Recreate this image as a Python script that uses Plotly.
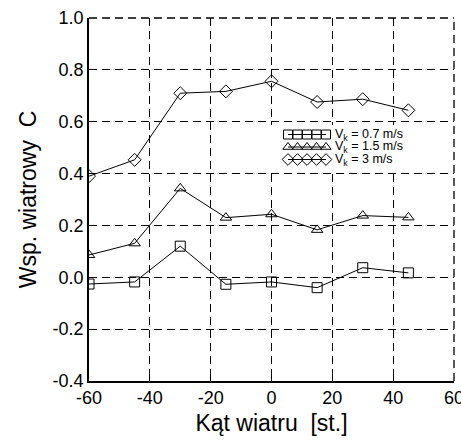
import plotly.graph_objects as go

# Wind angle [deg]
angles = [-60, -45, -30, -15, 0, 15, 30, 45]

# Wind coefficient C for three wind speeds
c_v07 = [-0.026, -0.018, 0.12, -0.027, -0.018, -0.04, 0.037, 0.017]
c_v15 = [0.086, 0.131, 0.343, 0.23, 0.243, 0.183, 0.238, 0.231]
c_v30 = [0.39, 0.453, 0.71, 0.717, 0.756, 0.676, 0.687, 0.644]

series_names = ["V<sub>k</sub> = 0.7 m/s", "V<sub>k</sub> = 1.5 m/s", "V<sub>k</sub> = 3 m/s"]
symbols = ["square-open", "triangle-up-open", "diamond-open"]

x_ticks = [-60, -40, -20, 0, 20, 40, 60]
y_ticks = [-0.4, -0.2, 0.0, 0.2, 0.4, 0.6, 0.8, 1.0]
y_labels = ["-0.4", "-0.2", "0.0", "0.2", "0.4", "0.6", "0.8", "1.0"]

font_family = "Liberation Sans, Arial, sans-serif"
dash = "8px,5px"

fig = go.Figure()
for vals, name, sym in zip([c_v07, c_v15, c_v30], series_names, symbols):
    fig.add_trace(go.Scatter(
        x=angles, y=vals, name=name, mode="lines+markers", showlegend=False,
        line=dict(color="black", width=1),
        marker=dict(symbol=sym, size=10, color="black", line=dict(width=1, color="black")),
    ))

# Hand-drawn key: a row of five sample markers per series, on a hidden
# pixel-scaled axis pair placed inside the plot area.
key_x0, key_step, key_n = 288, 9.5, 5
key_rows = [134.5, 147, 159.5]
for row, name, sym in zip(key_rows, series_names, symbols):
    fig.add_trace(go.Scatter(
        x=[key_x0 + key_step * i for i in range(key_n)], y=[row] * key_n,
        xaxis="x2", yaxis="y2", mode="lines+markers", showlegend=False,
        hoverinfo="skip",
        line=dict(color="black", width=1),
        marker=dict(symbol=sym, size=9, color="black", line=dict(width=1, color="black")),
    ))
    fig.add_annotation(
        x=key_x0 + key_step * (key_n - 1) + 7, y=row, xref="x2", yref="y2",
        text=name, showarrow=False, xanchor="left", yanchor="middle",
        font=dict(size=12.5, family=font_family, color="black"),
    )

grid = dict(showgrid=True, gridcolor="black", gridwidth=1.3, griddash=dash)

# plot area in pixels: x 89..454, y 18..381
px_l, px_r, px_t, px_b = 89, 454, 18, 381
W, H = px_r - px_l, px_b - px_t
kx = (270, 420)
ky = (125, 170)

fig.update_layout(
    width=461, height=441,
    margin=dict(l=px_l, r=461 - px_r, t=px_t, b=441 - px_b, autoexpand=False),
    paper_bgcolor="white", plot_bgcolor="white",
    font=dict(family=font_family, color="black", size=18),
    showlegend=False,
    xaxis=dict(
        range=[-60, 60], tickvals=x_ticks, ticktext=[str(v) for v in x_ticks],
        ticks="inside", ticklen=5, tickcolor="black", ticklabeloverflow="allow",
        automargin=False,
        showline=True, linecolor="black", linewidth=1.5, mirror=False,
        zeroline=False,
        title=dict(text="Kąt wiatru  [st.]", font=dict(size=23), standoff=8),
        **grid,
    ),
    yaxis=dict(
        range=[-0.4, 1.0], tickvals=y_ticks, ticktext=y_labels,
        ticks="", showline=True, linecolor="black", linewidth=1.5, mirror=False,
        zeroline=False, automargin=False,
        title=dict(text="Wsp. wiatrowy  C", font=dict(size=23), standoff=10),
        **grid,
    ),
    xaxis2=dict(
        domain=[(kx[0] - px_l) / W, (kx[1] - px_l) / W], range=list(kx),
        anchor="y2", visible=False, fixedrange=True,
    ),
    yaxis2=dict(
        domain=[(px_b - ky[1]) / H, (px_b - ky[0]) / H], range=[ky[1], ky[0]],
        anchor="x2", visible=False, fixedrange=True,
    ),
    shapes=[
        # dashed grid lines along the top and right edges of the frame
        dict(type="line", xref="x domain", yref="y domain", x0=0, x1=1, y0=1, y1=1,
             line=dict(color="black", width=1.3, dash=dash)),
        dict(type="line", xref="x domain", yref="y domain", x0=1, x1=1, y0=0, y1=1,
             line=dict(color="black", width=1.3, dash=dash)),
    ],
)

fig.write_html("out.html")
